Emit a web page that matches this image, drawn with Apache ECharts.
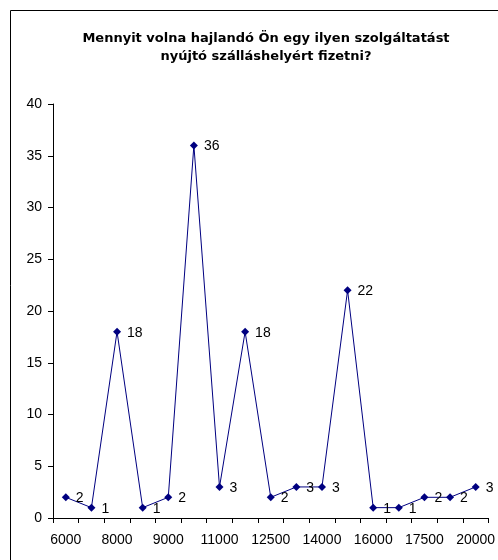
<!DOCTYPE html>
<html><head><meta charset="utf-8">
<script src="https://cdn.jsdelivr.net/npm/echarts@6/dist/echarts.min.js"></script>
<style>html,body{margin:0;padding:0;background:#fff}#c{width:498px;height:560px}</style>
</head><body><div id="c"></div>
<script>
const categories = ['6000','7000','8000','8500','9000','10000','11000','12000','12500','13000','14000','15000','16000','17000','17500','18000','20000'];
const values = [2,1,18,1,2,36,3,18,2,3,3,22,1,1,2,2,3];
const yTicks = [0,5,10,15,20,25,30,35,40];
const titleText = 'Mennyit volna hajlandó Ön egy ilyen szolgáltatást\nnyújtó szálláshelyért fizetni?';

const chart = echarts.init(document.getElementById('c'), null, {renderer:'canvas'});
chart.setOption({
  animation:false,
  backgroundColor:'#fff',
  graphic:[{type:'rect',shape:{x:10.5,y:10.5,width:600,height:600},style:{fill:'none',stroke:'#000',lineWidth:1}}],
  title:{text:titleText,left:261,textAlign:'center',top:25,
    textStyle:{fontFamily:'DejaVu Sans',fontWeight:'bold',fontSize:13,lineHeight:18,color:'#000'}},
  grid:{left:53,right:5,top:104,bottom:42,containLabel:false},
  xAxis:{type:'category',data:categories,boundaryGap:true,
    axisLine:{lineStyle:{color:'#000',width:1}},
    axisTick:{show:true,interval:0,length:5,lineStyle:{color:'#000'}},
    axisLabel:{interval:1,margin:15,color:'#000',fontFamily:'Liberation Sans, Arial',fontSize:14}},
  yAxis:{type:'value',min:yTicks[0],max:yTicks[yTicks.length-1],interval:5,
    axisLine:{show:true,lineStyle:{color:'#000',width:1}},
    axisTick:{show:true,length:5,lineStyle:{color:'#000'}},
    splitLine:{show:false},
    axisLabel:{margin:11,color:'#000',fontFamily:'Liberation Sans, Arial',fontSize:14}},
  series:[{type:'line',data:values,symbol:'diamond',symbolSize:8,
    itemStyle:{color:'#000080'},lineStyle:{color:'#000080',width:1},
    label:{show:true,position:'right',distance:6,offset:[0,1],color:'#000',fontFamily:'Liberation Sans, Arial',fontSize:14}}]
});
</script></body></html>
